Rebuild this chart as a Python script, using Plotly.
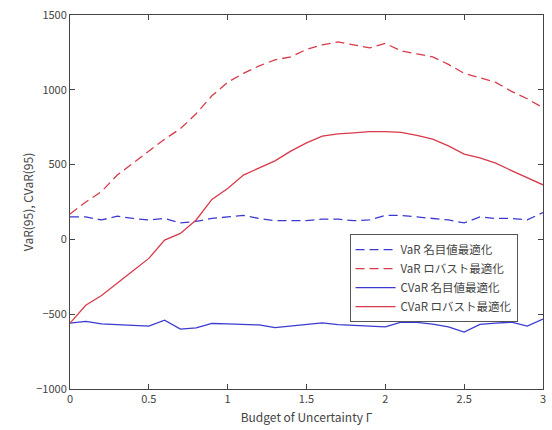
import plotly.graph_objects as go

# Budget of uncertainty Γ
gamma = [0.0, 0.1, 0.2, 0.3, 0.4, 0.5, 0.6, 0.7, 0.8, 0.9, 1.0,
         1.1, 1.2, 1.3, 1.4, 1.5, 1.6, 1.7, 1.8, 1.9, 2.0,
         2.1, 2.2, 2.3, 2.4, 2.5, 2.6, 2.7, 2.8, 2.9, 3.0]

var_nominal = [150, 150, 130, 155, 140, 130, 140, 110, 120, 140, 150,
               160, 140, 125, 125, 125, 135, 135, 125, 130, 160,
               160, 150, 140, 130, 110, 150, 140, 140, 130, 180]

var_robust = [170, 250, 320, 430, 510, 590, 670, 740, 840, 960, 1050,
              1110, 1160, 1200, 1220, 1270, 1300, 1320, 1300, 1280, 1310,
              1260, 1240, 1220, 1170, 1110, 1080, 1050, 990, 940, 880]

cvar_nominal = [-560, -548, -565, -570, -575, -580, -540, -600, -592, -562, -565,
                -570, -572, -590, -580, -572, -558, -570, -575, -575, -585,
                -553, -555, -567, -585, -620, -568, -560, -553, -580, -533]

cvar_robust = [-560, -440, -375, -290, -210, -127, -5, 40, 130, 267, 340,
               430, 480, 525, 590, 645, 690, 705, 712, 720, 720,
               715, 695, 670, 625, 570, 545, 510, 460, 410, 365]

BLUE = "#3a3ad0"
RED = "#d83a4a"
FONT = "Noto Sans CJK JP, sans-serif"

fig = go.Figure()
fig.add_trace(go.Scatter(x=gamma, y=var_nominal, mode="lines", name="VaR 名目値最適化",
                         line=dict(color=BLUE, width=1.3, dash="9px,5px")))
fig.add_trace(go.Scatter(x=gamma, y=var_robust, mode="lines", name="VaR ロバスト最適化",
                         line=dict(color=RED, width=1.3, dash="9px,5px")))
fig.add_trace(go.Scatter(x=gamma, y=cvar_nominal, mode="lines", name="CVaR 名目値最適化",
                         line=dict(color=BLUE, width=1.3)))
fig.add_trace(go.Scatter(x=gamma, y=cvar_robust, mode="lines", name="CVaR ロバスト最適化",
                         line=dict(color=RED, width=1.3)))

axis_common = dict(showgrid=False, zeroline=False, showline=True, linecolor="#444",
                   linewidth=1, mirror="ticks", ticks="inside", ticklen=5,
                   tickcolor="#444", tickfont=dict(family=FONT, size=11, color="#444"))

fig.update_layout(
    width=552, height=430,
    margin=dict(l=70, r=6, t=15, b=41),
    paper_bgcolor="white", plot_bgcolor="white",
    font=dict(family=FONT, color="#444"),
    xaxis=dict(range=[0, 3], tickvals=[0, 0.5, 1, 1.5, 2, 2.5, 3],
               ticktext=["0", "0.5", "1", "1.5", "2", "2.5", "3"],
               title=dict(text="Budget of Uncertainty Γ", font=dict(family=FONT, size=12, color="#444"),
                          standoff=8),
               **axis_common),
    yaxis=dict(range=[-1000, 1500], tickvals=[-1000, -500, 0, 500, 1000, 1500],
               title=dict(text="VaR(95), CVaR(95)", font=dict(family=FONT, size=12, color="#444"),
                          standoff=0),
               **axis_common),
    legend=dict(x=0.591, y=0.414, xanchor="left", yanchor="top",
                bgcolor="white", bordercolor="#555", borderwidth=1,
                font=dict(family=FONT, size=11.5, color="#444"),
                tracegroupgap=0, itemwidth=40),
    showlegend=True,
)

fig.write_html("out.html")
